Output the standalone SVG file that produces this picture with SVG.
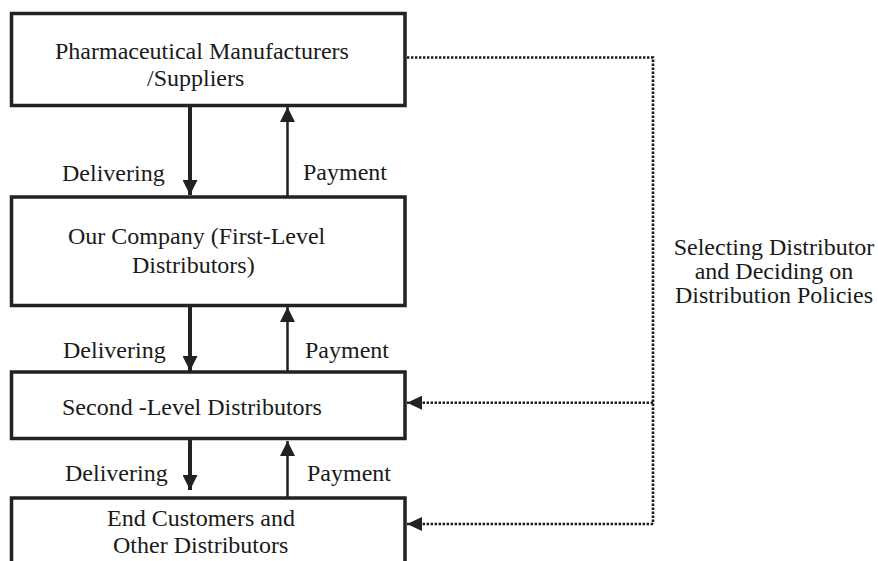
<svg xmlns="http://www.w3.org/2000/svg" width="878" height="561" viewBox="0 0 878 561">
<style>
  .box{fill:#fff;stroke:#222;stroke-width:3.5}
  .t{font-family:"Liberation Serif","Times New Roman",serif;font-size:24px;fill:#1a1a1a}
  .del{stroke:#222;stroke-width:4;fill:none}
  .pay{stroke:#222;stroke-width:2.5;fill:none}
  .dot{stroke:#1a1a1a;stroke-width:2.6;fill:none;stroke-dasharray:2.4 1.6}
</style>
<defs>
  <marker id="ah" viewBox="0 0 15 15" refX="15" refY="7.5" markerWidth="15" markerHeight="15" markerUnits="userSpaceOnUse" orient="auto">
    <path d="M0,0 L15,7.5 L0,15 Z" fill="#222"/>
  </marker>
  <marker id="dh" viewBox="0 0 15 14" refX="15" refY="7" markerWidth="15" markerHeight="14" markerUnits="userSpaceOnUse" orient="auto">
    <path d="M0,0 L15,7 L0,14 Z" fill="#222"/>
  </marker>
</defs>
<rect width="878" height="561" fill="#fff"/>
<g id="connectors">
  <line class="del" x1="190" y1="107" x2="190" y2="195" marker-end="url(#ah)"/>
  <line class="pay" x1="287.5" y1="196" x2="287.5" y2="107" marker-end="url(#ah)"/>
  <line class="del" x1="190" y1="307" x2="190" y2="371" marker-end="url(#ah)"/>
  <line class="pay" x1="287.5" y1="371" x2="287.5" y2="307" marker-end="url(#ah)"/>
  <line class="del" x1="190" y1="440" x2="190" y2="490" marker-end="url(#ah)"/>
  <line class="pay" x1="287.5" y1="497" x2="287.5" y2="441" marker-end="url(#ah)"/>
  <polyline class="dot" points="407,57.5 653,57.5 653,524"/>
  <line class="dot" x1="653" y1="402.7" x2="407" y2="402.7" marker-end="url(#dh)"/>
  <line class="dot" x1="653" y1="524" x2="407" y2="524" marker-end="url(#dh)"/>
  <text class="t" x="62" y="181">Delivering</text>
  <text class="t" x="303" y="180">Payment</text>
  <text class="t" x="63" y="358">Delivering</text>
  <text class="t" x="305" y="358">Payment</text>
  <text class="t" x="65" y="481">Delivering</text>
  <text class="t" x="307" y="481">Payment</text>
  <text class="t" x="774" y="255" text-anchor="middle">Selecting Distributor</text>
  <text class="t" x="774" y="279" text-anchor="middle">and Deciding on</text>
  <text class="t" x="774" y="303" text-anchor="middle">Distribution Policies</text>
</g>
<g id="n1">
  <rect class="box" x="11.5" y="13.5" width="393.5" height="92"/>
  <text class="t" x="55" y="59">Pharmaceutical Manufacturers</text>
  <text class="t" x="147" y="86">/Suppliers</text>
</g>
<g id="n2">
  <rect class="box" x="11.5" y="197" width="393.5" height="108.5"/>
  <text class="t" x="68" y="244">Our Company (First-Level</text>
  <text class="t" x="132" y="272.5">Distributors)</text>
</g>
<g id="n3">
  <rect class="box" x="11.5" y="372" width="393.5" height="66.5"/>
  <text class="t" x="62" y="415">Second -Level Distributors</text>
</g>
<g id="n4">
  <rect class="box" x="11.5" y="498" width="393.5" height="80"/>
  <text class="t" x="107" y="525.5">End Customers and</text>
  <text class="t" x="113" y="553">Other Distributors</text>
</g>
</svg>
